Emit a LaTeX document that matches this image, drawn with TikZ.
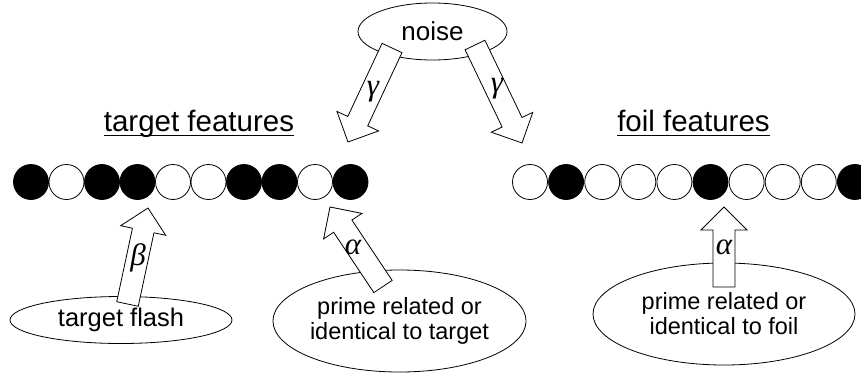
\documentclass[tikz,border=0pt]{standalone}
\usepackage{fontspec}
\setmainfont{Liberation Sans}
\newfontfamily\grk{Liberation Serif}
\usetikzlibrary{shapes.geometric,calc}
\tikzset{
  oval/.style={ellipse, draw, line width=0.8pt, inner sep=0pt, fill=white, align=center},
  txt/.style={font=\fontsize{23.5}{25}\selectfont},
  hdr/.style={font=\fontsize{29.5}{30}\selectfont, inner sep=0pt, anchor=base},
  fatarr/.style={draw, line width=0.8pt, fill=white, line join=miter},
  grklab/.style={font=\fontsize{31}{32}\selectfont\grk\itshape, inner sep=0pt},
  blk/.style={circle, draw, line width=0.8pt, fill=black, minimum size=35pt, inner sep=0pt},
  wht/.style={circle, draw, line width=0.8pt, fill=white, minimum size=35pt, inner sep=0pt},
}
\newcommand\fatarrow[2]{%
  \path (#2) coordinate (tmpB) ($(#2)!23pt!(#1)$) coordinate (tmpH);
  \draw[fatarr] ($(#1)!11pt!90:(tmpB)$) -- ($(tmpH)!11pt!90:(tmpB)$) -- ($(tmpH)!23pt!90:(tmpB)$) -- (tmpB) -- ($(tmpH)!23pt!-90:(tmpB)$) -- ($(tmpH)!11pt!-90:(tmpB)$) -- ($(#1)!11pt!-90:(tmpB)$) -- cycle;}
\begin{document}
\begin{tikzpicture}[x=1pt,y=-1pt]
\useasboundingbox[fill=white] (0,0) rectangle (861,375);
% ellipses
\node[oval, minimum width=149pt, minimum height=57pt, font=\fontsize{26}{27}\selectfont] (noise) at (432.5,31.5) {noise};
\node[oval, minimum width=222pt, minimum height=47pt, font=\fontsize{25.5}{27}\selectfont] (flash) at (121,320) {\raisebox{-4pt}{target flash}};
\node[oval, txt, minimum width=195pt, minimum height=102pt] (primeT) at (399.5,321) {prime related or\\identical to target};
\node[oval, txt, minimum width=262pt, minimum height=102pt] (primeF) at (724,314) {prime related or\\identical to foil};
% headers
\node[hdr] (tf) at (199,131) {target features};
\draw[line width=0.9pt] ([yshift=-4pt]tf.base west) -- ([yshift=-4pt]tf.base east);
\node[hdr] (ff) at (693.5,131) {foil features};
\draw[line width=0.9pt] ([yshift=-4pt]ff.base west) -- ([yshift=-4pt]ff.base east);
% feature rows
\foreach \s [count=\i from 0] in {blk,wht,blk,blk,wht,wht,blk,blk,wht,blk}
  \node[\s] (t\i) at (31+35.5*\i,182) {};
\foreach \s [count=\i from 0] in {wht,blk,wht,wht,wht,blk,wht,wht,wht,blk}
  \node[\s] (f\i) at (530+36.1*\i,182) {};
% arrow endpoints
\coordinate (g1s) at (392,48);  \coordinate (g1e) at (348,142);
\coordinate (g2s) at (475,45);  \coordinate (g2e) at (522,143);
\coordinate (bs) at (127.5,304); \coordinate (be) at (148,208);
\coordinate (a1s) at (383,286.5); \coordinate (a1e) at (330,207);
\coordinate (a2s) at (724,287); \coordinate (a2e) at (724,207);
\fatarrow{g1s}{g1e}
\fatarrow{g2s}{g2e}
\fatarrow{bs}{be}
\fatarrow{a1s}{a1e}
\fatarrow{a2s}{a2e}
% labels
\node[grklab] (lg1) at (373,92) {γ};
\node[grklab] (lg2) at (497,89) {γ};
\node[grklab] (lb) at (138,258) {β};
\node[grklab] (la1) at (353,247) {α};
\node[grklab] (la2) at (724,247) {α};
\end{tikzpicture}
\end{document}
